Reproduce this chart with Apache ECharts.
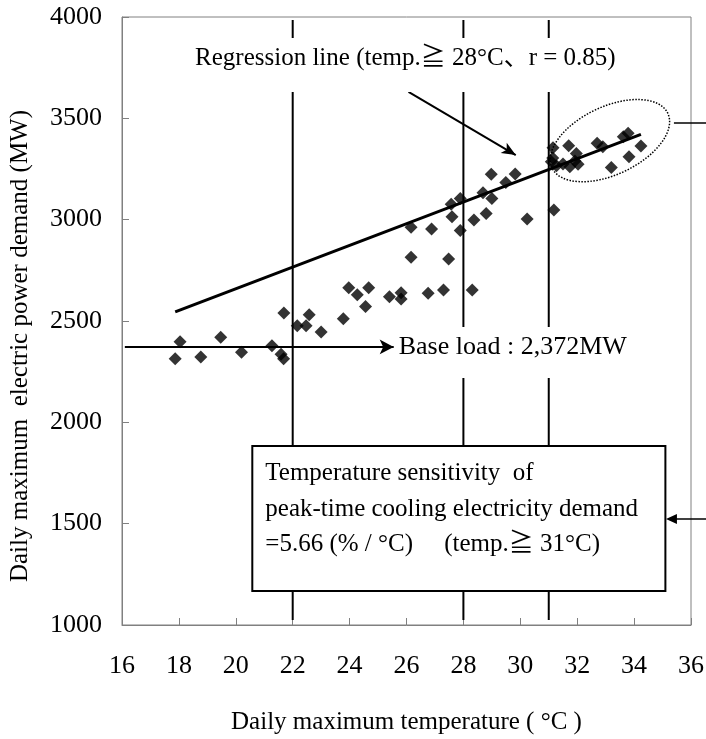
<!DOCTYPE html>
<html>
<head>
    <meta charset="utf-8">
    <title>Temperature vs power demand</title>
    <script src="https://cdn.jsdelivr.net/npm/echarts@6/dist/echarts.min.js"></script>
</head>
<body style="margin:0;background:#fff;">
    <div id="main" style="width:706px;height:739px;"></div>
    <script type="text/javascript">
        // data
        var temps = [17.87, 18.04, 18.77, 19.47, 20.2, 21.27, 21.59, 21.68, 21.69, 22.16,
            22.47, 22.58, 23.0, 23.78, 23.97, 24.27, 24.67, 24.56, 25.4, 25.81,
            25.81, 26.76, 27.3, 28.31, 26.16, 27.48, 26.16, 26.88, 27.6, 27.89,
            27.57, 27.89, 28.37, 28.8, 28.69, 29.0, 28.98, 29.49, 29.82, 30.24,
            31.18, 31.15, 31.7, 31.97, 32.7, 32.9, 31.09, 31.27, 31.5, 31.74,
            32.03, 31.14, 31.92, 33.2, 33.62, 33.79, 33.82, 34.24];
        var demand = [2314, 2397, 2322, 2420, 2346, 2378, 2336, 2314, 2540, 2477,
            2477, 2531, 2446, 2511, 2664, 2630, 2664, 2571, 2620, 2640,
            2609, 2637, 2653, 2653, 2814, 2806, 2962, 2954, 3015, 2946,
            3076, 3105, 2998, 3031, 3133, 3105, 3224, 3184, 3225, 3003,
            3048, 3355, 3365, 3327, 3377, 3360, 3286, 3266, 3275, 3261,
            3273, 3304, 3290, 3258, 3409, 3426, 3311, 3364];
        var regLine = [[17.87, 2545], [34.24, 3421]];
        var regArrow = [[26.07, 3630], [29.84, 3319]];
        var baseLoad = 2372;
        var baseArrowX = [16.1, 25.55];
        var vLines = [22, 28, 31];
        var vLineSpan = [3985, 1025];
        var xTicks = {min: 16, max: 36, step: 2};
        var yTicks = {min: 1000, max: 4000, step: 500};

        var font = '"Liberation Serif", "Noto Sans CJK JP", serif';

        var points = temps.map(function (t, i) { return [t, demand[i]]; });
        var vSeries = vLines.map(function (v) {
            return {
                type: 'line', data: [[v, vLineSpan[0]], [v, vLineSpan[1]]], symbol: 'none', z: 2,
                lineStyle: {color: '#000', width: 2}, silent: true
            };
        });

        var chart = echarts.init(document.getElementById('main'));
        chart.setOption({
            animation: false,
            grid: {left: 122, right: 15, top: 17, bottom: 114, show: true,
                borderColor: '#808080', borderWidth: 1, outerBoundsMode: 'none'},
            xAxis: {
                type: 'value', min: xTicks.min, max: xTicks.max, interval: xTicks.step,
                axisLine: {lineStyle: {color: '#808080'}},
                axisTick: {inside: true, length: 7, lineStyle: {color: '#808080'}},
                splitLine: {show: false},
                axisLabel: {color: '#000', fontFamily: font, fontSize: 26, margin: 28},
                name: 'Daily maximum temperature ( °C )', nameLocation: 'middle', nameGap: 85,
                nameTextStyle: {color: '#000', fontFamily: font, fontSize: 25}
            },
            yAxis: {
                type: 'value', min: yTicks.min, max: yTicks.max, interval: yTicks.step,
                axisLine: {show: true, lineStyle: {color: '#808080'}},
                axisTick: {show: true, inside: true, length: 7, lineStyle: {color: '#808080'}},
                splitLine: {show: false},
                axisLabel: {color: '#000', fontFamily: font, fontSize: 26, margin: 20,
                    formatter: function (v) { return String(v); }}
            },
            series: vSeries.concat([
                {
                    type: 'line', data: regLine, symbol: 'none', z: 3,
                    lineStyle: {color: '#000', width: 3},
                    markLine: {
                        silent: true, symbol: 'none', label: {show: false},
                        lineStyle: {color: '#000', width: 2, type: 'solid'},
                        data: [
                            [{coord: regArrow[0], symbol: 'none'},
                             {coord: regArrow[1], symbol: 'arrow', symbolSize: [9, 14]}],
                            [{coord: [baseArrowX[0], baseLoad], symbol: 'none'},
                             {coord: [baseArrowX[1], baseLoad], symbol: 'arrow', symbolSize: [11, 14]}]
                        ]
                    }
                },
                {
                    type: 'scatter', data: points, symbol: 'diamond', symbolSize: [13, 13], z: 4,
                    itemStyle: {color: '#000'}
                }
            ])
        });

        function px(p) { return chart.convertToPixel({gridIndex: 0}, p); }

        var regPos = px([25.96, 3798]);
        var basePos = px([baseArrowX[1], baseLoad]);
        var boxTL = px([20.58, 1883]);
        var boxBR = px([35.1, 1168]);
        var ell = px([33.15, 3390]);
        var topMark = px([35.4, 3477]);
        var sideArrow = px([35.12, 1523]);
        var W = 706;

        chart.setOption({
            graphic: [
                {
                    type: 'rect', z: 99,
                    shape: {x: regPos[0] - 212, y: regPos[1] - 20, width: 424, height: 54},
                    style: {fill: '#fff'}
                },
                {
                    type: 'text', z: 100, x: regPos[0], y: regPos[1],
                    style: {text: 'Regression line (temp.≧ 28°C、r = 0.85)', font: '25px ' + font,
                        fill: '#000', align: 'center', verticalAlign: 'middle'}
                },
                {
                    type: 'rect', z: 99,
                    shape: {x: basePos[0] + 3, y: basePos[1] - 20, width: 236, height: 51},
                    style: {fill: '#fff'}
                },
                {
                    type: 'text', z: 100, x: basePos[0] + 5, y: basePos[1],
                    style: {text: 'Base load : 2,372MW', font: '26px ' + font,
                        fill: '#000', align: 'left', verticalAlign: 'middle'}
                },
                {
                    type: 'rect', z: 100,
                    shape: {x: boxTL[0], y: boxTL[1], width: boxBR[0] - boxTL[0], height: boxBR[1] - boxTL[1]},
                    style: {fill: '#fff', stroke: '#000', lineWidth: 2}
                },
                {
                    type: 'text', z: 101, x: boxTL[0] + 13, y: boxTL[1] + 10,
                    style: {text: 'Temperature sensitivity  of\npeak-time cooling electricity demand\n=5.66 (% / °C)　 (temp.≧ 31°C)',
                        font: '25px ' + font, fill: '#000', align: 'left', verticalAlign: 'top',
                        lineHeight: 35.5}
                },
                {
                    type: 'ellipse', z: 100, x: ell[0], y: ell[1], rotation: 0.44,
                    shape: {cx: 0, cy: 0, rx: 64, ry: 34},
                    style: {fill: 'none', stroke: '#000', lineWidth: 1.5, lineDash: [1.5, 1.5]}
                },
                {
                    type: 'line', z: 100,
                    shape: {x1: topMark[0], y1: topMark[1], x2: W, y2: topMark[1]},
                    style: {stroke: '#000', lineWidth: 1.5}
                },
                {
                    type: 'line', z: 100,
                    shape: {x1: sideArrow[0] + 8, y1: sideArrow[1], x2: W, y2: sideArrow[1]},
                    style: {stroke: '#000', lineWidth: 1.5}
                },
                {
                    type: 'polygon', z: 100,
                    shape: {points: [[sideArrow[0], sideArrow[1]], [sideArrow[0] + 11, sideArrow[1] - 5],
                        [sideArrow[0] + 11, sideArrow[1] + 5]]},
                    style: {fill: '#000'}
                },
                {
                    type: 'text', z: 100, x: 20, y: 346, rotation: Math.PI / 2,
                    style: {text: 'Daily maximum  electric power demand (MW)', font: '25px ' + font,
                        fill: '#000', align: 'center', verticalAlign: 'middle'}
                }
            ]
        });
    </script>
</body>
</html>
